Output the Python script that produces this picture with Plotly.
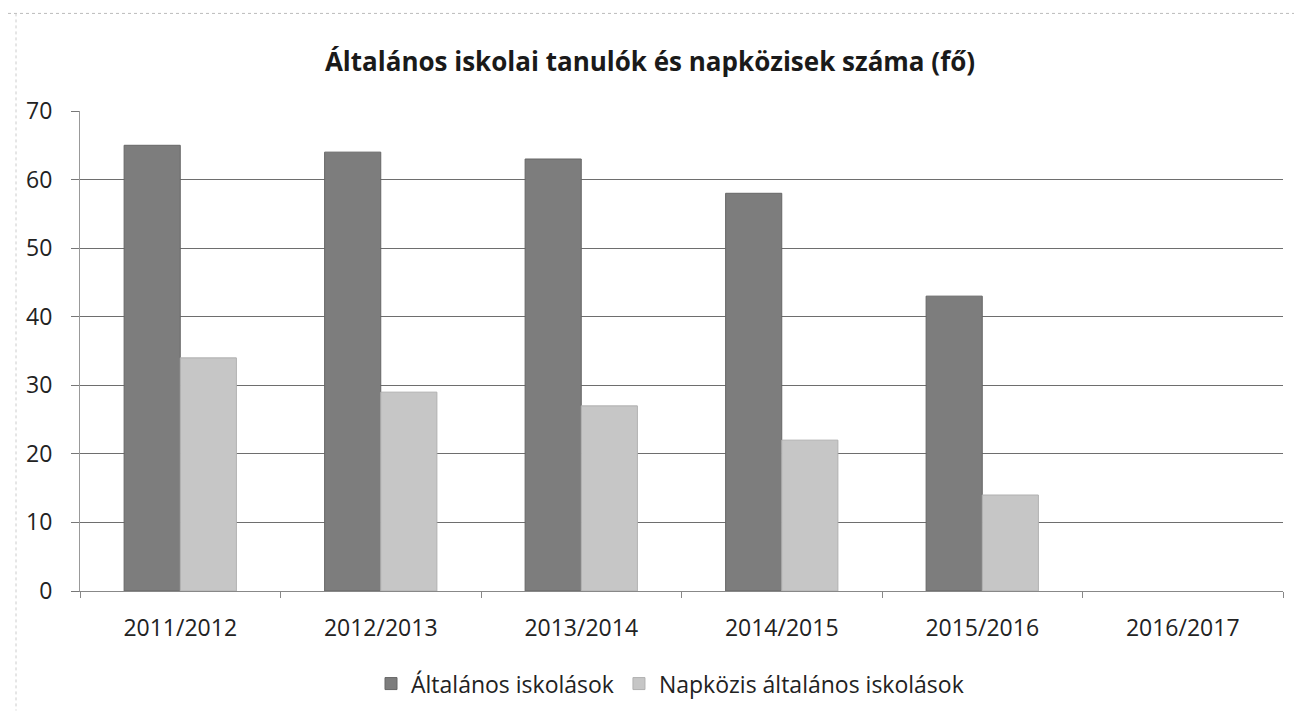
import plotly.graph_objects as go

categories = ["2011/2012", "2012/2013", "2013/2014", "2014/2015", "2015/2016", "2016/2017"]
altalanos = [65, 64, 63, 58, 43, None]
napkozis = [34, 29, 27, 22, 14, None]
series_names = ["Általános iskolások", "Napközis általános iskolások"]
title_text = "Általános iskolai tanulók és napközisek száma (fő)"
y_ticks = [0, 10, 20, 30, 40, 50, 60, 70]

FONT = "Open Sans"
W, H = 1294, 709
L, R, T, B = 72, 19, 103, 124
PW, PH = W - L - R, H - T - B

fig = go.Figure()
fig.add_trace(go.Bar(x=categories, y=altalanos, name=series_names[0],
                     marker=dict(color="#7d7d7d", line=dict(color="#666", width=1))))
fig.add_trace(go.Bar(x=categories, y=napkozis, name=series_names[1],
                     marker=dict(color="#c6c6c6", line=dict(color="#b0b0b0", width=1))))

fig.update_layout(
    width=W, height=H,
    margin=dict(l=L, r=R, t=T, b=B),
    paper_bgcolor="white", plot_bgcolor="white",
    barmode="group", bargap=0.44, bargroupgap=0,
    title=dict(text="<b>" + title_text + "</b>", x=(650 - 8) / W, xanchor="center",
               y=1 - 54 / H, yanchor="middle",
               font=dict(family=FONT, size=26, color="#1a1a1a")),
    font=dict(family=FONT, size=23, color="#222"),
    legend=dict(orientation="h", x=(670 - 8 - L) / PW, xanchor="center",
                y=-(678 - 585) / PH, yanchor="middle",
                font=dict(family=FONT, size=23, color="#222"), itemwidth=30,
                traceorder="normal"),
    showlegend=True,
)
fig.update_xaxes(type="category", showline=True, linecolor="#888", linewidth=1,
                 ticks="outside", tickson="boundaries", ticklen=6, tickcolor="#888",
                 ticklabelstandoff=16,
                 showgrid=False, tickfont=dict(family=FONT, size=23, color="#222"))
fig.update_yaxes(range=[0, 70], tickvals=y_ticks, showline=True, linecolor="#999",
                 linewidth=1, ticks="outside", ticklen=8, tickcolor="#777",
                 ticklabelstandoff=14,
                 showgrid=True, gridcolor="#6e6e6e", gridwidth=1, zeroline=False,
                 tickfont=dict(family=FONT, size=23, color="#222"))

# chart-area border (scan frame)
fig.add_shape(type="line", xref="paper", yref="paper", x0=-L / PW, x1=1 + R / PW,
              y0=1 + 98 / PH, y1=1 + 98 / PH, line=dict(color="#bbb", width=1, dash="dot"))
fig.add_shape(type="line", xref="paper", yref="paper", x0=-64 / PW, x1=-64 / PW,
              y0=1 + 98 / PH, y1=-(B - 4) / PH, line=dict(color="#ccc", width=1, dash="dot"))

fig.write_html("out.html")
